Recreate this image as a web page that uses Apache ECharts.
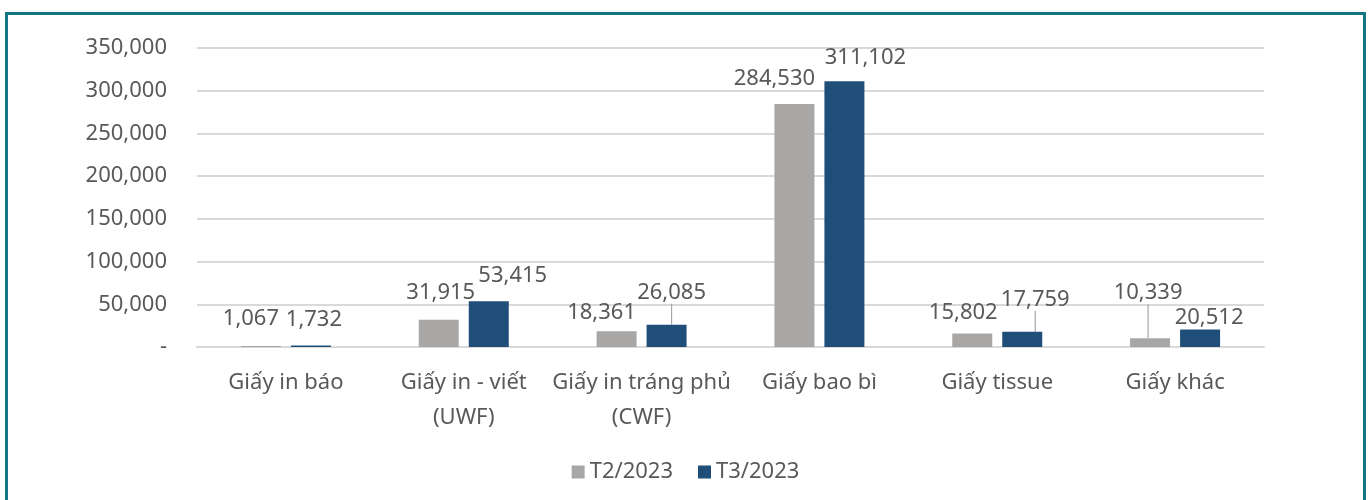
<!DOCTYPE html>
<html>
<head>
<meta charset="utf-8">
<script src="https://cdn.jsdelivr.net/npm/echarts@6/dist/echarts.min.js"></script>
<style>
  html, body { margin: 0; padding: 0; background: #fff; }
  #chart { position: absolute; left: 0; top: 0; width: 1371px; height: 500px; }
  .frame {
    position: absolute; left: 5px; top: 12px; width: 1355px; height: 520px;
    border: 3px solid #137682; pointer-events: none;
  }
</style>
</head>
<body>
<div id="chart"></div>
<div class="frame"></div>
<script>
const categories = ['Giấy in báo', 'Giấy in - viết\n(UWF)', 'Giấy in tráng phủ\n(CWF)', 'Giấy bao bì', 'Giấy tissue', 'Giấy khác'];
const t2 = [1067, 31915, 18361, 284530, 15802, 10339];
const t3 = [1732, 53415, 26085, 311102, 17759, 20512];
const seriesNames = ['T2/2023', 'T3/2023'];

// nudges for the data labels, like the hand-moved ones in the original
const t2Shift = [[-10, -2], [2, -2], [-15, 6], [-20, 0], [-9, 4], [-2, -20]];
const t3Shift = [[3, -1], [24, -1], [5, -7], [21, 2], [13, -7], [9, 13]];
const t2Leader = [false, false, false, false, false, true];
const t3Leader = [false, false, true, false, true, false];

const fmt = v => v.toLocaleString('en-US');

function buildData(values, leaders) {
  return values.map((v, i) => ({
    value: v,
    labelLine: { show: leaders[i] }
  }));
}

const chart = echarts.init(document.getElementById('chart'));
const textColor = '#595959';
const font = '"Noto Sans", "Open Sans", sans-serif';

function barSeries(name, values, color, shifts, leaders) {
  return {
    name: name,
    type: 'bar',
    barWidth: 40,
    barGap: '25%',
    data: buildData(values, leaders),
    itemStyle: { color: color },
    label: {
      show: true,
      position: 'top',
      distance: 14,
      color: textColor,
      fontSize: 22,
      fontFamily: font,
      formatter: p => fmt(p.value)
    },
    labelLine: {
      show: false,
      lineStyle: { color: '#a6a6a6', width: 1.2 },
      length2: 0
    },
    labelLayout: p => ({ dx: shifts[p.dataIndex][0], dy: shifts[p.dataIndex][1] })
  };
}

chart.setOption({
  animation: false,
  textStyle: { fontFamily: font },
  grid: { left: 197, right: 107, top: 48, bottom: 153 },
  legend: {
    data: seriesNames,
    bottom: 12,
    left: 'center',
    icon: 'rect',
    itemWidth: 13,
    itemHeight: 13,
    itemGap: 25,
    textStyle: { color: textColor, fontSize: 22, fontFamily: font }
  },
  xAxis: {
    type: 'category',
    data: categories,
    axisLine: { lineStyle: { color: '#d9d9d9', width: 2 } },
    axisTick: { show: false },
    axisLabel: {
      color: textColor,
      fontSize: 22,
      fontFamily: font,
      lineHeight: 35,
      margin: 18,
      interval: 0
    }
  },
  yAxis: {
    type: 'value',
    min: 0,
    max: 350000,
    interval: 50000,
    axisLine: { show: false },
    axisTick: { show: false },
    splitLine: { lineStyle: { color: '#d9d9d9', width: 2 } },
    axisLabel: {
      color: textColor,
      fontSize: 22,
      fontFamily: font,
      margin: 30,
      formatter: v => (v === 0 ? '-' : fmt(v))
    }
  },
  series: [
    barSeries(seriesNames[0], t2, '#a9a6a6', t2Shift, t2Leader),
    barSeries(seriesNames[1], t3, '#1f4e79', t3Shift, t3Leader)
  ]
});
</script>
</body>
</html>
